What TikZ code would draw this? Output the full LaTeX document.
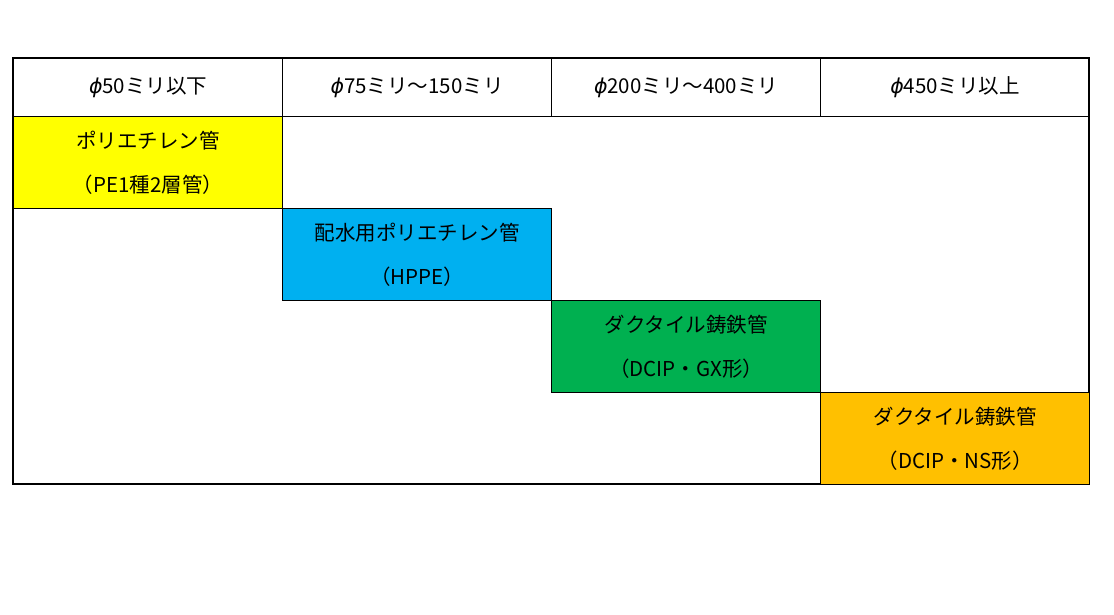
\documentclass[tikz,border=0pt]{standalone}
\usepackage{fontspec}
\newfontfamily\cjk{Noto Sans CJK JP}
\newfontfamily\dvs{DejaVu Sans}
\newcommand{\phisym}{{\dvs\itshape ϕ}}
\definecolor{cy}{HTML}{FFFF00}
\definecolor{cb}{HTML}{00B0F0}
\definecolor{cg}{HTML}{00B050}
\definecolor{co}{HTML}{FFC000}
\begin{document}
\begin{tikzpicture}[x=1pt,y=-1pt,
  cell/.style={draw=black,line width=1.3pt,minimum width=269pt,anchor=north west,inner sep=0pt,font=\cjk\fontsize{20.5}{44}\selectfont,align=center},
  hdr/.style={cell,minimum height=58pt},
  body/.style={cell,minimum height=92pt}]
\useasboundingbox (0,0) rectangle (1114,614);
\draw[line width=1.3pt] (13,58) rectangle (1089,484);
\node[hdr] (h1) at (13,58) {\phisym 50ミリ以下};
\node[hdr] (h2) at (282,58) {\phisym 75ミリ～150ミリ};
\node[hdr] (h3) at (551,58) {\phisym 200ミリ～400ミリ};
\node[hdr] (h4) at (820,58) {\phisym 450ミリ以上};
\node[body,fill=cy] (b1) at (13,116) {ポリエチレン管\\（PE1種2層管）};
\node[body,fill=cb] (b2) at (282,208) {配水用ポリエチレン管\\（HPPE）};
\node[body,fill=cg] (b3) at (551,300) {ダクタイル鋳鉄管\\（DCIP・GX形）};
\node[body,fill=co] (b4) at (820,392) {ダクタイル鋳鉄管\\（DCIP・NS形）};
\end{tikzpicture}
\end{document}
